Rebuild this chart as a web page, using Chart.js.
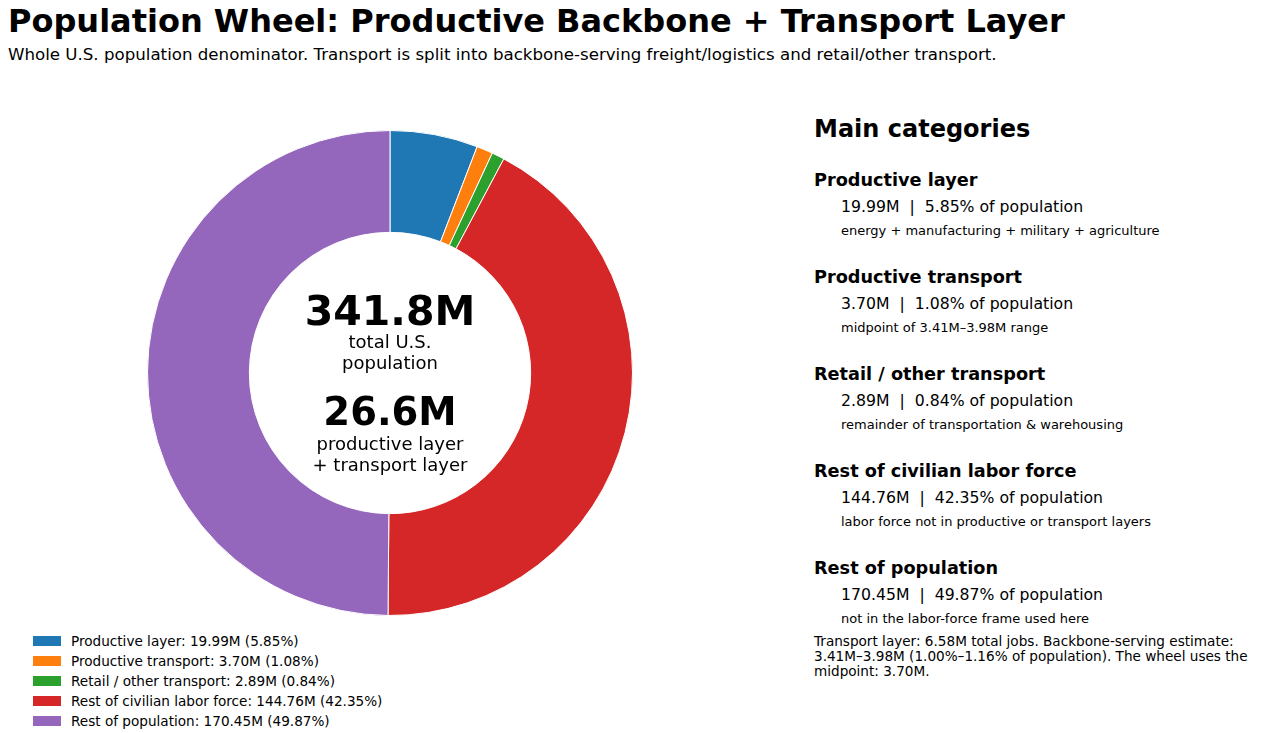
<!DOCTYPE html>
<html>
<head>
<meta charset="utf-8">
<script src="https://cdn.jsdelivr.net/npm/chart.js@4"></script>
<style>
  html, body { margin: 0; padding: 0; background: #fff; }
  body { width: 1267px; height: 733px; position: relative; overflow: hidden;
         font-family: "DejaVu Sans", sans-serif; color: #000; }
  .abs { position: absolute; white-space: pre; line-height: 1; }
  #title { left: 8px; top: 5px; font-size: 32px; font-weight: bold; }
  #subtitle { left: 8px; top: 47px; font-size: 16.65px; }
  #wheel { position: absolute; left: 147px; top: 130px; width: 486px; height: 486px; }
  .center { position: absolute; left: 190px; width: 400px; text-align: center; line-height: 1.15; }
  .big1 { font-size: 41px; font-weight: bold; }
  .big2 { font-size: 38.5px; font-weight: bold; }
  .mid { font-size: 18px; }
  #legend { position: absolute; left: 33px; top: 631px; }
  .lrow { height: 20px; display: flex; align-items: center; font-size: 13.6px; }
  .lbox { width: 28px; height: 10px; margin-right: 10px; }
  #side { position: absolute; left: 814px; top: 0; }
  #maincat { left: 0; top: 117px; font-size: 24px; font-weight: bold; }
  .hdr { font-size: 17.7px; font-weight: bold; left: 0; }
  .val { font-size: 15.7px; left: 27px; }
  .desc { font-size: 13px; left: 27px; }
  #foot { left: 0; top: 634px; font-size: 13.6px; line-height: 15px; }
</style>
</head>
<body>
<div id="title" class="abs">Population Wheel: Productive Backbone + Transport Layer</div>
<div id="subtitle" class="abs">Whole U.S. population denominator. Transport is split into backbone-serving freight/logistics and retail/other transport.</div>

<div id="wheel"><canvas id="pie"></canvas></div>

<div class="center big1" style="top:288px;">341.8M</div>
<div class="center mid" style="top:332px;">total U.S.<br>population</div>
<div class="center big2" style="top:390px;">26.6M</div>
<div class="center mid" style="top:434px;">productive layer<br>+ transport layer</div>

<div id="legend"></div>
<div id="side"></div>

<script>
// ---------------------------------------------------------------------------- data
const categories = [
    'Productive layer',
    'Productive transport',
    'Retail / other transport',
    'Rest of civilian labor force',
    'Rest of population'
];
const valuesM = [19.99, 3.70, 2.89, 144.76, 170.45];
const sharePct = [5.85, 1.08, 0.84, 42.35, 49.87];
const notes = [
    'energy + manufacturing + military + agriculture',
    'midpoint of 3.41M\u20133.98M range',
    'remainder of transportation & warehousing',
    'labor force not in productive or transport layers',
    'not in the labor-force frame used here'
];
const footLines = [
    'Transport layer: 6.58M total jobs. Backbone-serving estimate:',
    '3.41M\u20133.98M (1.00%\u20131.16% of population). The wheel uses the',
    'midpoint: 3.70M.'
];
const colors = ['#1f77b4', '#ff7f0e', '#2ca02c', '#d62728', '#9467bd'];

// ---------------------------------------------------------------------------- legend (bottom left)
let leg = '';
for (let i = 0; i < categories.length; i++) {
    leg += `<div class="lrow"><span class="lbox" style="background:${colors[i]}"></span>` +
           `${categories[i]}: ${valuesM[i].toFixed(2)}M (${sharePct[i].toFixed(2)}%)</div>`;
}
document.getElementById('legend').innerHTML = leg;

// ---------------------------------------------------------------------------- side panel
let side = '<div id="maincat" class="abs">Main categories</div>';
for (let i = 0; i < categories.length; i++) {
    const y = 172 + i * 97;
    side += `<div class="abs hdr" style="top:${y}px">${categories[i]}</div>`;
    side += `<div class="abs val" style="top:${y + 27}px">${valuesM[i].toFixed(2)}M  |  ${sharePct[i].toFixed(2)}% of population</div>`;
    side += `<div class="abs desc" style="top:${y + 52}px">${notes[i]}</div>`;
}
side += `<div id="foot" class="abs">${footLines.join('\n')}</div>`;
document.getElementById('side').innerHTML = side;

// ---------------------------------------------------------------------------- chart
const ctx = document.getElementById('pie').getContext('2d');
new Chart(ctx, {
    type: 'doughnut',
    data: {
        labels: categories,
        datasets: [{
            data: valuesM,
            backgroundColor: colors,
            borderColor: '#ffffff',
            borderWidth: 1
        }]
    },
    options: {
        responsive: true,
        maintainAspectRatio: false,
        animation: false,
        cutout: '58%',
        layout: { padding: 0 },
        plugins: {
            legend: { display: false },
            tooltip: { enabled: false }
        }
    }
});
</script>
</body>
</html>
